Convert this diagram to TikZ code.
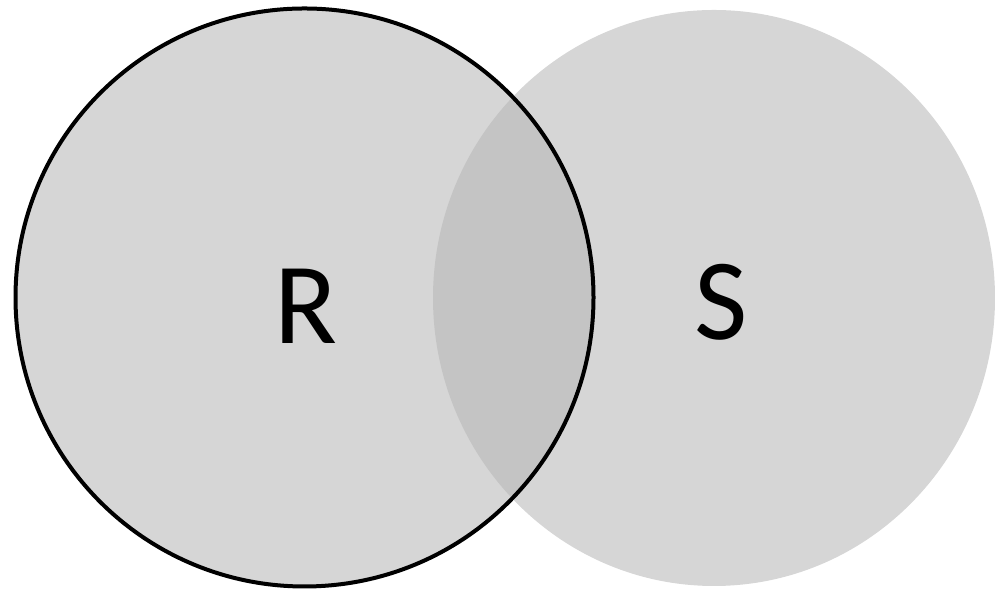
\documentclass[tikz,border=0pt]{standalone}
\usepackage{fontspec}
\setmainfont{Carlito}
\usepackage{tikz}
\definecolor{setgray}{HTML}{D6D6D6}
\definecolor{overlapgray}{HTML}{C4C4C4}

\begin{document}
\begin{tikzpicture}[
    x=0.1mm, y=0.1mm,
    setlabel/.style={inner sep=0pt, font=\fontsize{33}{33}\selectfont}
]
    \useasboundingbox (0,0) rectangle (995,589);

    % Set areas
    \fill[setgray] (714,291) ellipse [x radius=281, y radius=288];
    \fill[setgray] (304.5,291.5) circle [radius=289];

    % Overlap R and S
    \begin{scope}
        \clip (714,291) ellipse [x radius=281, y radius=288];
        \fill[overlapgray] (304.5,291.5) circle [radius=289];
    \end{scope}

    % Border of R
    \draw[line width=0.4mm] (304.5,291.5) circle [radius=289];

    % Labels
    \node[setlabel] (rlabel) at (306,283) {R};
    \node[setlabel] (slabel) at (721,287) {S};

\end{tikzpicture}
\end{document}
